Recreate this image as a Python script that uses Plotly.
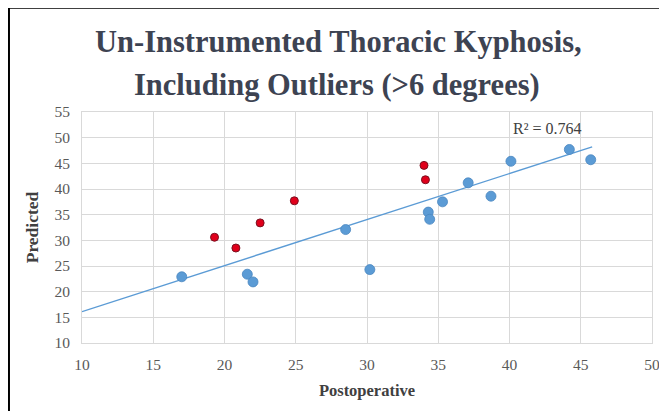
import plotly.graph_objects as go

# ---- data ----
blue_x = [17.0, 21.6, 22.0, 28.5, 30.2, 34.3, 34.4, 35.3, 37.1, 38.7, 40.1, 44.2, 45.7]
blue_y = [22.9, 23.4, 21.9, 32.1, 24.3, 35.5, 34.1, 37.5, 41.2, 38.6, 45.4, 47.7, 45.7]
red_x = [19.3, 20.8, 22.5, 24.9, 34.0, 34.1]
red_y = [30.6, 28.5, 33.4, 37.7, 44.6, 41.8]
trend_slope = 0.897
trend_intercept = 7.13
trend_x = [10, 45.8]
r2_label = "R² = 0.764"
x_ticks = [10, 15, 20, 25, 30, 35, 40, 45, 50]
y_ticks = [10, 15, 20, 25, 30, 35, 40, 45, 50, 55]
title_lines = ["Un-Instrumented Thoracic Kyphosis,", "Including Outliers (>6 degrees)"]
x_title = "Postoperative"
y_title = "Predicted"

# page is rendered with the default 8px body margin -> compensate
OFF = 8
W, H = 667 - OFF, 411 - OFF
# target page-pixel box of the plot area
PL, PR, PT, PB = 81.5, 651.7, 112.3, 343.3
ML, MR, MT, MB = PL - OFF, W - (PR - OFF), PT - OFF, H - (PB - OFF)
PW = W - ML - MR
PH = H - MT - MB


def py(p):  # page pixel y -> paper y
    return (PB - p) / PH


def px(p):  # page pixel x -> paper x
    return (p - PL) / PW


SERIF = "Liberation Serif, Times New Roman, serif"

fig = go.Figure()
trend_y = [trend_intercept + trend_slope * v for v in trend_x]
fig.add_trace(go.Scatter(x=trend_x, y=trend_y, mode="lines",
                         line=dict(color="#5b9bd5", width=1.4), hoverinfo="skip"))
fig.add_trace(go.Scatter(x=blue_x, y=blue_y, mode="markers",
                         marker=dict(color="#5b9bd5", size=10, line=dict(width=0.8, color="#4a86c0"))))
fig.add_trace(go.Scatter(x=red_x, y=red_y, mode="markers",
                         marker=dict(color="#e0001b", size=8, line=dict(width=1, color="#7a1020"))))

axis_common = dict(showgrid=True, gridcolor="#d9d9d9", gridwidth=1, zeroline=False,
                   showline=True, linecolor="#d9d9d9", linewidth=1, mirror=True,
                   automargin=False,
                   tickfont=dict(family=SERIF, size=15.5, color="#595959"))

fig.update_xaxes(range=[10, 50], tickvals=x_ticks, ticktext=[str(t) for t in x_ticks],
                 ticks="outside", ticklen=7, tickcolor="rgba(0,0,0,0)",
                 title=dict(text="<b>%s</b>" % x_title, font=dict(family=SERIF, size=16.5, color="#404040"),
                            standoff=12), **axis_common)
fig.update_yaxes(range=[10, 55], tickvals=y_ticks, ticktext=[str(t) for t in y_ticks],
                 ticks="outside", ticklen=8, tickcolor="rgba(0,0,0,0)",
                 title=dict(text="<b>%s</b>" % y_title, font=dict(family=SERIF, size=17.5, color="#404040"),
                            standoff=11), **axis_common)

annotations = [
    dict(text="<b>%s</b>" % title_lines[0], x=px(338), y=py(42), xref="paper", yref="paper",
         showarrow=False, xanchor="center", yanchor="middle",
         font=dict(family=SERIF, size=30.5, color="#3d4352")),
    dict(text="<b>%s</b>" % title_lines[1], x=px(337), y=py(85), xref="paper", yref="paper",
         showarrow=False, xanchor="center", yanchor="middle",
         font=dict(family=SERIF, size=30.5, color="#3d4352")),
    dict(text=r2_label, x=px(547), y=py(129), xref="paper", yref="paper",
         showarrow=False, xanchor="center", yanchor="middle",
         font=dict(family=SERIF, size=16, color="#404040")),
]

shapes = [
    dict(type="line", xref="paper", yref="paper", x0=px(8.2), x1=px(8.2), y0=py(6.5), y1=py(430),
         line=dict(color="black", width=2.5)),
    dict(type="line", xref="paper", yref="paper", x0=px(7), x1=px(680), y0=py(7.7), y1=py(7.7),
         line=dict(color="black", width=2.5)),
]

fig.update_layout(width=W, height=H, margin=dict(l=ML, r=MR, t=MT, b=MB, autoexpand=False),
                  paper_bgcolor="white", plot_bgcolor="white", showlegend=False,
                  annotations=annotations, shapes=shapes)

fig.write_html("out.html")
